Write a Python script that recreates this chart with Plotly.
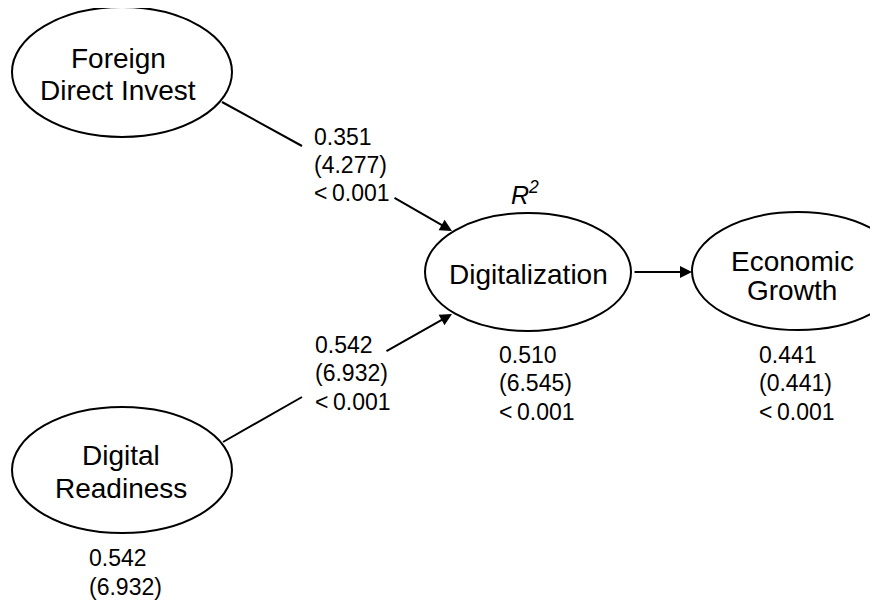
import plotly.graph_objects as go

# ---- data ----
node_names = ["Foreign<br>Direct Invest", "Digital<br>Readiness", "Digitalization", "Economic<br>Growth"]
path_coef = ["0.351", "0.542"]
path_t = ["(4.277)", "(6.932)"]
path_p = ["<\u20090.001", "<\u20090.001"]
r2_coef = ["0.510", "0.441"]
r2_t = ["(6.545)", "(0.441)"]
r2_p = ["<\u20090.001", "<\u20090.001"]
dr_coef = "0.542"
dr_t = "(6.932)"

FONT = "Liberation Sans, Arial, Helvetica, sans-serif"
W, H = 878, 600
OFF = 8  # default page body margin in the browser

# ---- layout geometry (pixels in the final window) ----
nodes = [
    dict(cx=122, cy=72, rx=110, ry=65, lx=118, ly=[58, 90]),
    dict(cx=122, cy=470, rx=110, ry=63, lx=121, ly=[455, 488]),
    dict(cx=528, cy=272, rx=103, ry=59, lx=528, ly=[274]),
    dict(cx=798, cy=271, rx=106, ry=59, lx=792, ly=[261, 290]),
]

fig = go.Figure()
shapes = []
ann = []

for n, name in zip(nodes, node_names):
    shapes.append(dict(type="circle", xref="x", yref="y",
                       x0=n["cx"] - n["rx"], x1=n["cx"] + n["rx"],
                       y0=n["cy"] - n["ry"], y1=n["cy"] + n["ry"],
                       line=dict(color="black", width=2)))
    for line, y in zip(name.split("<br>"), n["ly"]):
        ann.append(dict(x=n["lx"], y=y, text=line, showarrow=False,
                        xanchor="center", yanchor="middle",
                        font=dict(family=FONT, size=28, color="black")))

# path segments: (start, break1, break2, tip)
paths = [
    ((222, 102), (302, 146), (393, 197), (452, 231)),
    ((223, 442), (302, 397), (385, 352), (452, 314)),
]
for (s, b1, b2, t) in paths:
    shapes.append(dict(type="line", xref="x", yref="y", x0=s[0], y0=s[1], x1=b1[0], y1=b1[1],
                       line=dict(color="black", width=2)))
    ann.append(dict(x=t[0], y=t[1], ax=b2[0], ay=b2[1], axref="x", ayref="y",
                    xref="x", yref="y", text="", showarrow=True,
                    arrowhead=2, arrowsize=1.2, arrowwidth=2, arrowcolor="black", standoff=0))

# horizontal arrow
ann.append(dict(x=692, y=272, ax=633, ay=272, axref="x", ayref="y", xref="x", yref="y",
                text="", showarrow=True, arrowhead=2, arrowsize=1.2, arrowwidth=2,
                arrowcolor="black", standoff=0))

def txt(x, y, s, size=23, anchor="left"):
    ann.append(dict(x=x, y=y, text=s, showarrow=False, xanchor=anchor, yanchor="middle",
                    font=dict(family=FONT, size=size, color="black")))

# path labels
for lx, ys, c, tv, pv in [(312, [137, 165, 193], path_coef[0], path_t[0], path_p[0]),
                          (313, [345, 373, 402], path_coef[1], path_t[1], path_p[1])]:
    for y, s in zip(ys, [c, tv, pv]):
        txt(lx, y, s)

# R2 labels
for lx, i in [(497, 0), (757, 1)]:
    for y, s in zip([355, 383, 412], [r2_coef[i], r2_t[i], r2_p[i]]):
        txt(lx, y, s)

txt(525, 193, "<i>R</i><sup><i>2</i></sup>", size=25, anchor="center")

# bottom values under Digital Readiness
txt(87, 558, dr_coef)
txt(87, 587, dr_t)

fig.update_layout(
    width=W - OFF, height=H - OFF, margin=dict(l=0, r=0, t=0, b=0),
    paper_bgcolor="white", plot_bgcolor="white",
    xaxis=dict(range=[OFF, W], visible=False, fixedrange=True),
    yaxis=dict(range=[H, OFF], visible=False, fixedrange=True),
    shapes=shapes, annotations=ann, showlegend=False,
)

fig.write_html("out.html")
